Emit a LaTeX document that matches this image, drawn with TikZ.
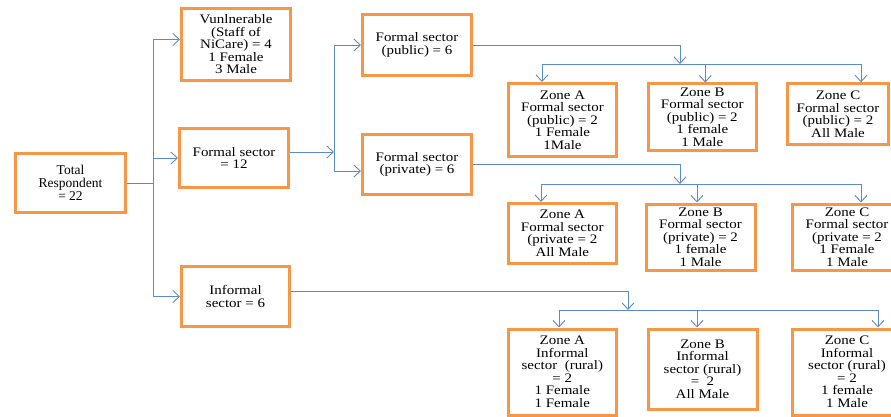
\documentclass[tikz,border=0pt]{standalone}
\usepackage{fontspec}
\setmainfont{Liberation Serif}[FakeStretch=1.15]
\newfontfamily\totfont{Liberation Serif}
\usetikzlibrary{arrows.meta}
\definecolor{boxorange}{HTML}{F79646}
\definecolor{lineblue}{HTML}{5B8BC9}
\tikzset{
  box/.style={draw=boxorange, line width=3pt, fill=white, align=center, inner sep=0pt,
    font=\fontsize{13}{12.5}\selectfont, text=black},
  bx/.style 2 args={box, minimum width=#1pt, minimum height=#2pt},
  conn/.style={draw=lineblue, line width=0.9pt},
  arr/.style={conn, -{Straight Barb[length=6.5pt,width=12pt]}},
}
\begin{document}
\begin{tikzpicture}[x=1pt,y=-1pt]
\clip (0,0) rectangle (891,417);
\fill[white] (0,0) rectangle (891,417);

% level 1
\node[bx={110}{59}, font=\totfont\fontsize{13.5}{12.8}\selectfont] (tot) at (70.5,183) {Total\\Respondent\\= 22};
% level 2
\node[bx={109}{72}] (vul) at (236,44.5) {Vunlnerable\\(Staff of\\NiCare) = 4\\1 Female\\3 Male};
\node[bx={109}{59}] (f12) at (234,158) {Formal sector\\= 12};
\node[bx={108}{60}] (inf) at (235.5,296.5) {Informal\\sector = 6};
% level 3
\node[bx={109}{61}] (pub) at (417,45) {Formal sector\\(public) = 6};
\node[bx={109}{60}] (pri) at (417,164.5) {Formal sector\\(private) = 6};
% zones public
\node[bx={108}{73}] (zAp) at (562.5,120) {Zone A\\Formal sector\\(public) = 2\\1 Female\\1Male};
\node[bx={108}{66}] (zBp) at (702.3,117) {Zone B\\Formal sector\\(public) = 2\\1 female\\1 Male};
\node[bx={101}{61}] (zCp) at (838,114.3) {Zone C\\Formal sector\\(public) = 2\\All Male};
% zones private
\node[bx={108}{60}] (zApr) at (562.3,233.5) {Zone A\\Formal sector\\(private = 2\\All Male};
\node[bx={109}{66}] (zBpr) at (700.5,237) {Zone B\\Formal sector\\(private) = 2\\1 female\\1 Male};
\node[bx={109}{66}] (zCpr) at (847,237) {Zone C\\Formal sector\\(private = 2\\1 Female\\1 Male};
% zones informal
\node[bx={108}{86}] (zAi) at (562.3,372) {Zone A\\Informal\\sector\ \ (rural)\\= 2\\1 Female\\1 Female};
\node[bx={109}{80}] (zBi) at (702.5,369) {Zone B\\Informal\\sector (rural)\\= \ 2\\All Male};
\node[bx={109}{86}] (zCi) at (847,372) {Zone C\\Informal\\sector (rural)\\= 2\\1 female\\1 Male};

% connectors level 1 -> 2
\coordinate (j1) at (153,183);
\draw[conn] (tot.east) -- (j1);
\draw[arr] (j1) |- ([yshift=5pt]vul.west);
\draw[arr] (j1) |- (f12.west);
\draw[arr] (j1) |- (inf.west);

% formal 12 -> public/private
\coordinate (j2) at (334,152);
\draw[arr] ([yshift=6pt]f12.east) -- (j2);
\draw[arr] (j2) |- (pub.west);
\draw[arr] (j2) |- ([yshift=-6.5pt]pri.west);

% public -> zones
\coordinate (b1) at (680,64);
\draw[arr] (pub.east) -| (b1);
\draw[arr] (b1) -| ([xshift=-20.5pt]zAp.north);
\draw[arr] (b1) -| ([xshift=3pt]zBp.north);
\draw[arr] (b1) -| ([xshift=23pt]zCp.north);

% private -> zones
\coordinate (b2) at (680,184);
\draw[arr] (pri.east) -| (b2);
\draw[arr] (b2) -| ([xshift=-21.3pt]zApr.north);
\draw[arr] (b2) -| ([xshift=-3.5pt]zBpr.north);
\draw[arr] (b2) -| ([xshift=14pt]zCpr.north);

% informal -> zones
\coordinate (b3) at (628,310);
\draw[arr] ([yshift=5pt]inf.east) -| (b3);
\draw[arr] (b3) -| ([xshift=-3.3pt]zAi.north);
\draw[arr] (b3) -| ([xshift=-5.5pt]zBi.north);
\draw[arr] (b3) -| ([xshift=31pt]zCi.north);
\end{tikzpicture}
\end{document}
